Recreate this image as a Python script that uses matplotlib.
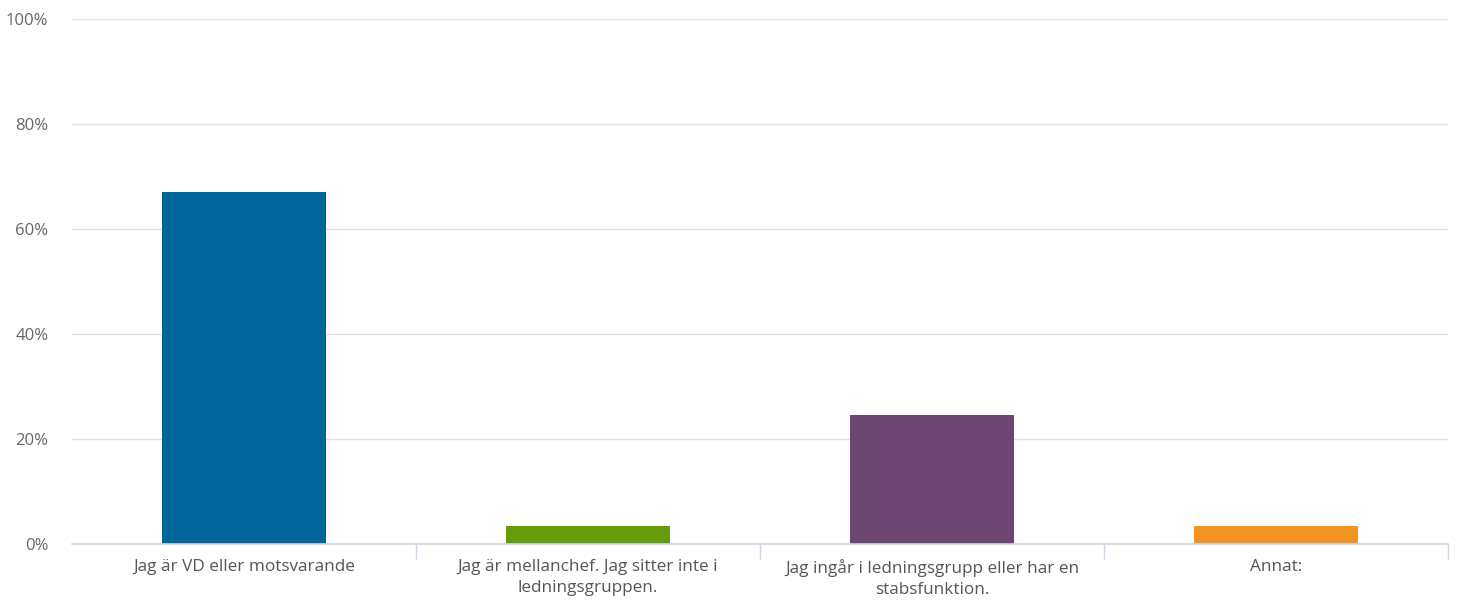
import matplotlib.pyplot as plt
from matplotlib.ticker import FixedLocator

categories = [
    "Jag är VD eller motsvarande",
    "Jag är mellanchef. Jag sitter inte i\nledningsgruppen.",
    "Jag ingår i ledningsgrupp eller har en\nstabsfunktion.",
    "Annat:",
]
values = [67.0, 3.5, 24.5, 3.5]
colors = ["#006699", "#649e0b", "#6d4571", "#f39422"]
yticks = [0, 20, 40, 60, 80, 100]

plt.rcParams['font.family'] = ['Open Sans', 'DejaVu Sans']

fig = plt.figure(figsize=(14.59, 6.01), dpi=100)
ax = fig.add_axes([72 / 1459, 57 / 601, 1376 / 1459, 525 / 601])

x = range(len(categories))
ax.bar(x, values, width=0.477, color=colors, zorder=3)

ax.set_xlim(-0.5, len(categories) - 0.5)
ax.set_ylim(0, 100)
ax.set_yticks(yticks)
ax.set_yticklabels([f"{v}%" for v in yticks])
ax.set_xticks(list(x))
ax.set_xticklabels(categories, linespacing=1.4)
ax.xaxis.set_minor_locator(FixedLocator([i + 0.5 for i in x]))

ax.grid(axis='y', color='#e0e0e0', linewidth=1, zorder=0)
for s in ['top', 'right', 'left']:
    ax.spines[s].set_visible(False)
ax.spines['bottom'].set_color('#ccd6eb')
ax.spines['bottom'].set_linewidth(1.2)
ax.spines['bottom'].set_zorder(4)

ax.tick_params(axis='y', length=0, pad=17, labelsize=12, labelcolor='#666666')
ax.tick_params(axis='x', which='major', length=0, pad=11, labelsize=12.3, labelcolor='#555555')
ax.tick_params(axis='x', which='minor', length=11, width=1, color='#ccd6eb')

fig.savefig('out.png', dpi=100)
